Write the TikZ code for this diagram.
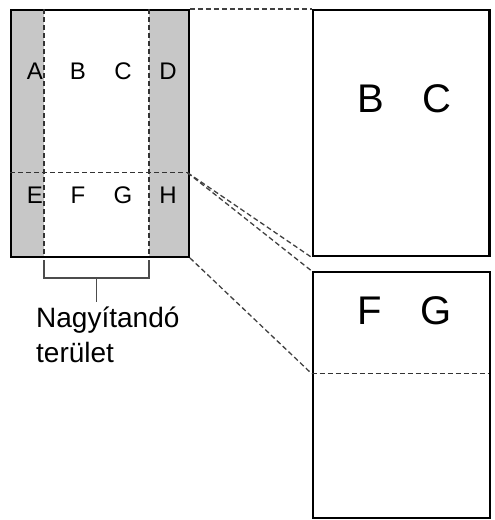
\documentclass[tikz,border=0pt]{standalone}
\usepackage{fontspec}
\setmainfont{Liberation Sans}
\begin{document}
\begin{tikzpicture}[x=1pt,y=-1pt,
  frame/.style={draw=black,line width=2.4pt,inner sep=0pt,anchor=north west},
  cut/.style={draw=black!80,line width=1.3pt,dash pattern=on 5pt off 3pt},
  zoomline/.style={draw=black!75,line width=1.3pt,dash pattern=on 5pt off 3pt},
  bracketline/.style={draw=black!70,line width=1.1pt},
  small/.style={font=\fontsize{24}{24}\selectfont,inner sep=0pt},
  big/.style={font=\fontsize{40}{40}\selectfont,inner sep=0pt},
  caption/.style={font=\fontsize{28}{28}\selectfont,inner sep=0pt,anchor=base west}]
\useasboundingbox (0,0) rectangle (495,520);
% grey strips
\fill[black!22] (10,9) rectangle (44,255.5);
\fill[black!22] (149,9) rectangle (187.5,255.5);
% left frame
\node[frame,minimum width=177.5pt,minimum height=246.5pt] (L) at (10,9) {};
% inner dashed lines
\coordinate (v1t) at (44,9);
\coordinate (v1b) at (44,255.5);
\coordinate (v2t) at (149,9);
\coordinate (v2b) at (149,255.5);
\coordinate (hl) at (10,172.7);
\coordinate (hr) at (187.5,172.7);
\draw[cut] (v1t) -- (v1b);
\draw[cut] (v2t) -- (v2b);
\draw[cut] (hl) -- (hr);
% letters
\node[small] (A) at (35,71) {A};
\node[small] (B) at (78,71) {B};
\node[small] (C) at (123,71) {C};
\node[small] (D) at (168,71) {D};
\node[small] (E) at (35,195) {E};
\node[small] (F) at (78,195) {F};
\node[small] (G) at (123,195) {G};
\node[small] (H) at (168,195) {H};
% right frames
\node[frame,minimum width=176.5pt,minimum height=246pt] (R1) at (311.7,9) {};
\node[frame,minimum width=177pt,minimum height=245.5pt] (R2) at (311.7,271) {};
\coordinate (r2l) at (311.7,373.7);
\coordinate (r2r) at (488.7,373.7);
\draw[cut] (r2l) -- (r2r);
\node[big] (B2) at (371,99) {B};
\node[big] (C2) at (437,99) {C};
\node[big] (F2) at (370,311) {F};
\node[big] (G2) at (436,311) {G};
% zoom connectors
\draw[zoomline] (L.north east) -- (R1.north west);
\draw[zoomline] (hr) -- (R1.south west);
\draw[zoomline] (hr) -- (R2.north west);
\draw[zoomline] (L.south east) -- (r2l);
% bracket
\coordinate (bl) at (44,260);
\coordinate (br) at (149,260);
\coordinate (bm) at (96.5,278);
\coordinate (bs) at (96.5,301.5);
\draw[bracketline] (bl) |- (bm) -| (br);
\draw[bracketline] (bm) -- (bs);
\node[caption] (cap1) at (36,327) {Nagyítandó};
\node[caption] (cap2) at (36,362) {terület};
\end{tikzpicture}
\end{document}
